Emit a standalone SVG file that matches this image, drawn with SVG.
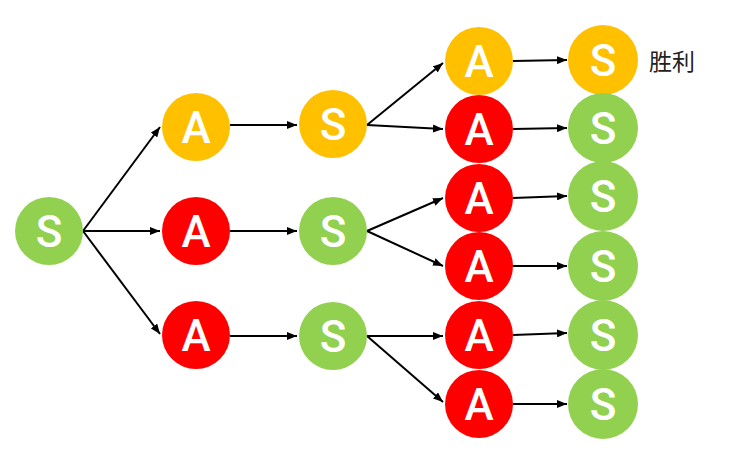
<svg xmlns="http://www.w3.org/2000/svg" width="734" height="451" viewBox="0 0 734 451">
<defs>
<marker id="ah" markerWidth="10" markerHeight="8" refX="10" refY="4" orient="auto" markerUnits="userSpaceOnUse">
<path d="M0,0 L10,4 L0,8 Z" fill="#000"/>
</marker>
<style>
.g{fill:#92D050}.o{fill:#FFC000}.r{fill:#FF0000}
.t{fill:#fff;font-family:Roboto,"Liberation Sans",sans-serif;font-weight:500;font-size:44px;text-anchor:middle}
.c line{stroke:#000;stroke-width:2;marker-end:url(#ah)}
.lbl{fill:#222;font-family:"Noto Sans CJK SC",sans-serif;font-size:23px;dominant-baseline:central}
</style>
</defs>
<rect width="734" height="451" fill="#fff"/>
<g class="c" id="connectors">
<line x1="83" y1="231" x2="160" y2="127"/>
<line x1="83" y1="231" x2="160" y2="231"/>
<line x1="83" y1="231" x2="160" y2="334"/>
<line x1="230" y1="125" x2="297" y2="125"/>
<line x1="230" y1="231" x2="297" y2="231"/>
<line x1="230" y1="336" x2="297" y2="336"/>
<line x1="367" y1="125" x2="443" y2="63"/>
<line x1="367" y1="125" x2="443" y2="129"/>
<line x1="367" y1="231" x2="443" y2="198"/>
<line x1="367" y1="231" x2="443" y2="266"/>
<line x1="367" y1="336" x2="443" y2="336"/>
<line x1="367" y1="336" x2="443" y2="402"/>
<line x1="513" y1="61" x2="567" y2="60"/>
<line x1="513" y1="129" x2="567" y2="128"/>
<line x1="513" y1="198" x2="567" y2="196"/>
<line x1="513" y1="266" x2="567" y2="266"/>
<line x1="513" y1="335" x2="567" y2="333"/>
<line x1="513" y1="404" x2="567" y2="404"/>
</g>
<g id="n0"><circle class="g" cx="49" cy="231" r="34"/><text class="t" x="49" y="247">S</text></g>
<g id="n1"><circle class="o" cx="196" cy="127" r="34"/><text class="t" x="196" y="143">A</text></g>
<g id="n2"><circle class="r" cx="196" cy="231" r="34"/><text class="t" x="196" y="247">A</text></g>
<g id="n3"><circle class="r" cx="196" cy="335" r="34"/><text class="t" x="196" y="351">A</text></g>
<g id="n4"><circle class="o" cx="333" cy="124" r="34"/><text class="t" x="333" y="140">S</text></g>
<g id="n5"><circle class="g" cx="333" cy="231" r="34"/><text class="t" x="333" y="247">S</text></g>
<g id="n6"><circle class="g" cx="333" cy="336" r="34"/><text class="t" x="333" y="352">S</text></g>
<g id="n7"><circle class="o" cx="479" cy="61" r="34"/><text class="t" x="479" y="77">A</text></g>
<g id="n8"><circle class="r" cx="479" cy="129" r="34"/><text class="t" x="479" y="145">A</text></g>
<g id="n9"><circle class="r" cx="479" cy="198" r="34"/><text class="t" x="479" y="214">A</text></g>
<g id="n10"><circle class="r" cx="479" cy="266" r="34"/><text class="t" x="479" y="282">A</text></g>
<g id="n11"><circle class="r" cx="479" cy="335" r="34"/><text class="t" x="479" y="351">A</text></g>
<g id="n12"><circle class="r" cx="479" cy="404" r="34"/><text class="t" x="479" y="420">A</text></g>
<g id="n13"><circle class="o" cx="603" cy="60" r="35"/><text class="t" x="603" y="76">S</text><text class="lbl" x="649" y="60">胜利</text></g>
<g id="n14"><circle class="g" cx="603" cy="128" r="35"/><text class="t" x="603" y="144">S</text></g>
<g id="n15"><circle class="g" cx="603" cy="196" r="35"/><text class="t" x="603" y="212">S</text></g>
<g id="n16"><circle class="g" cx="603" cy="266" r="35"/><text class="t" x="603" y="282">S</text></g>
<g id="n17"><circle class="g" cx="603" cy="335" r="35"/><text class="t" x="603" y="351">S</text></g>
<g id="n18"><circle class="g" cx="603" cy="404" r="35"/><text class="t" x="603" y="420">S</text></g>
</svg>
